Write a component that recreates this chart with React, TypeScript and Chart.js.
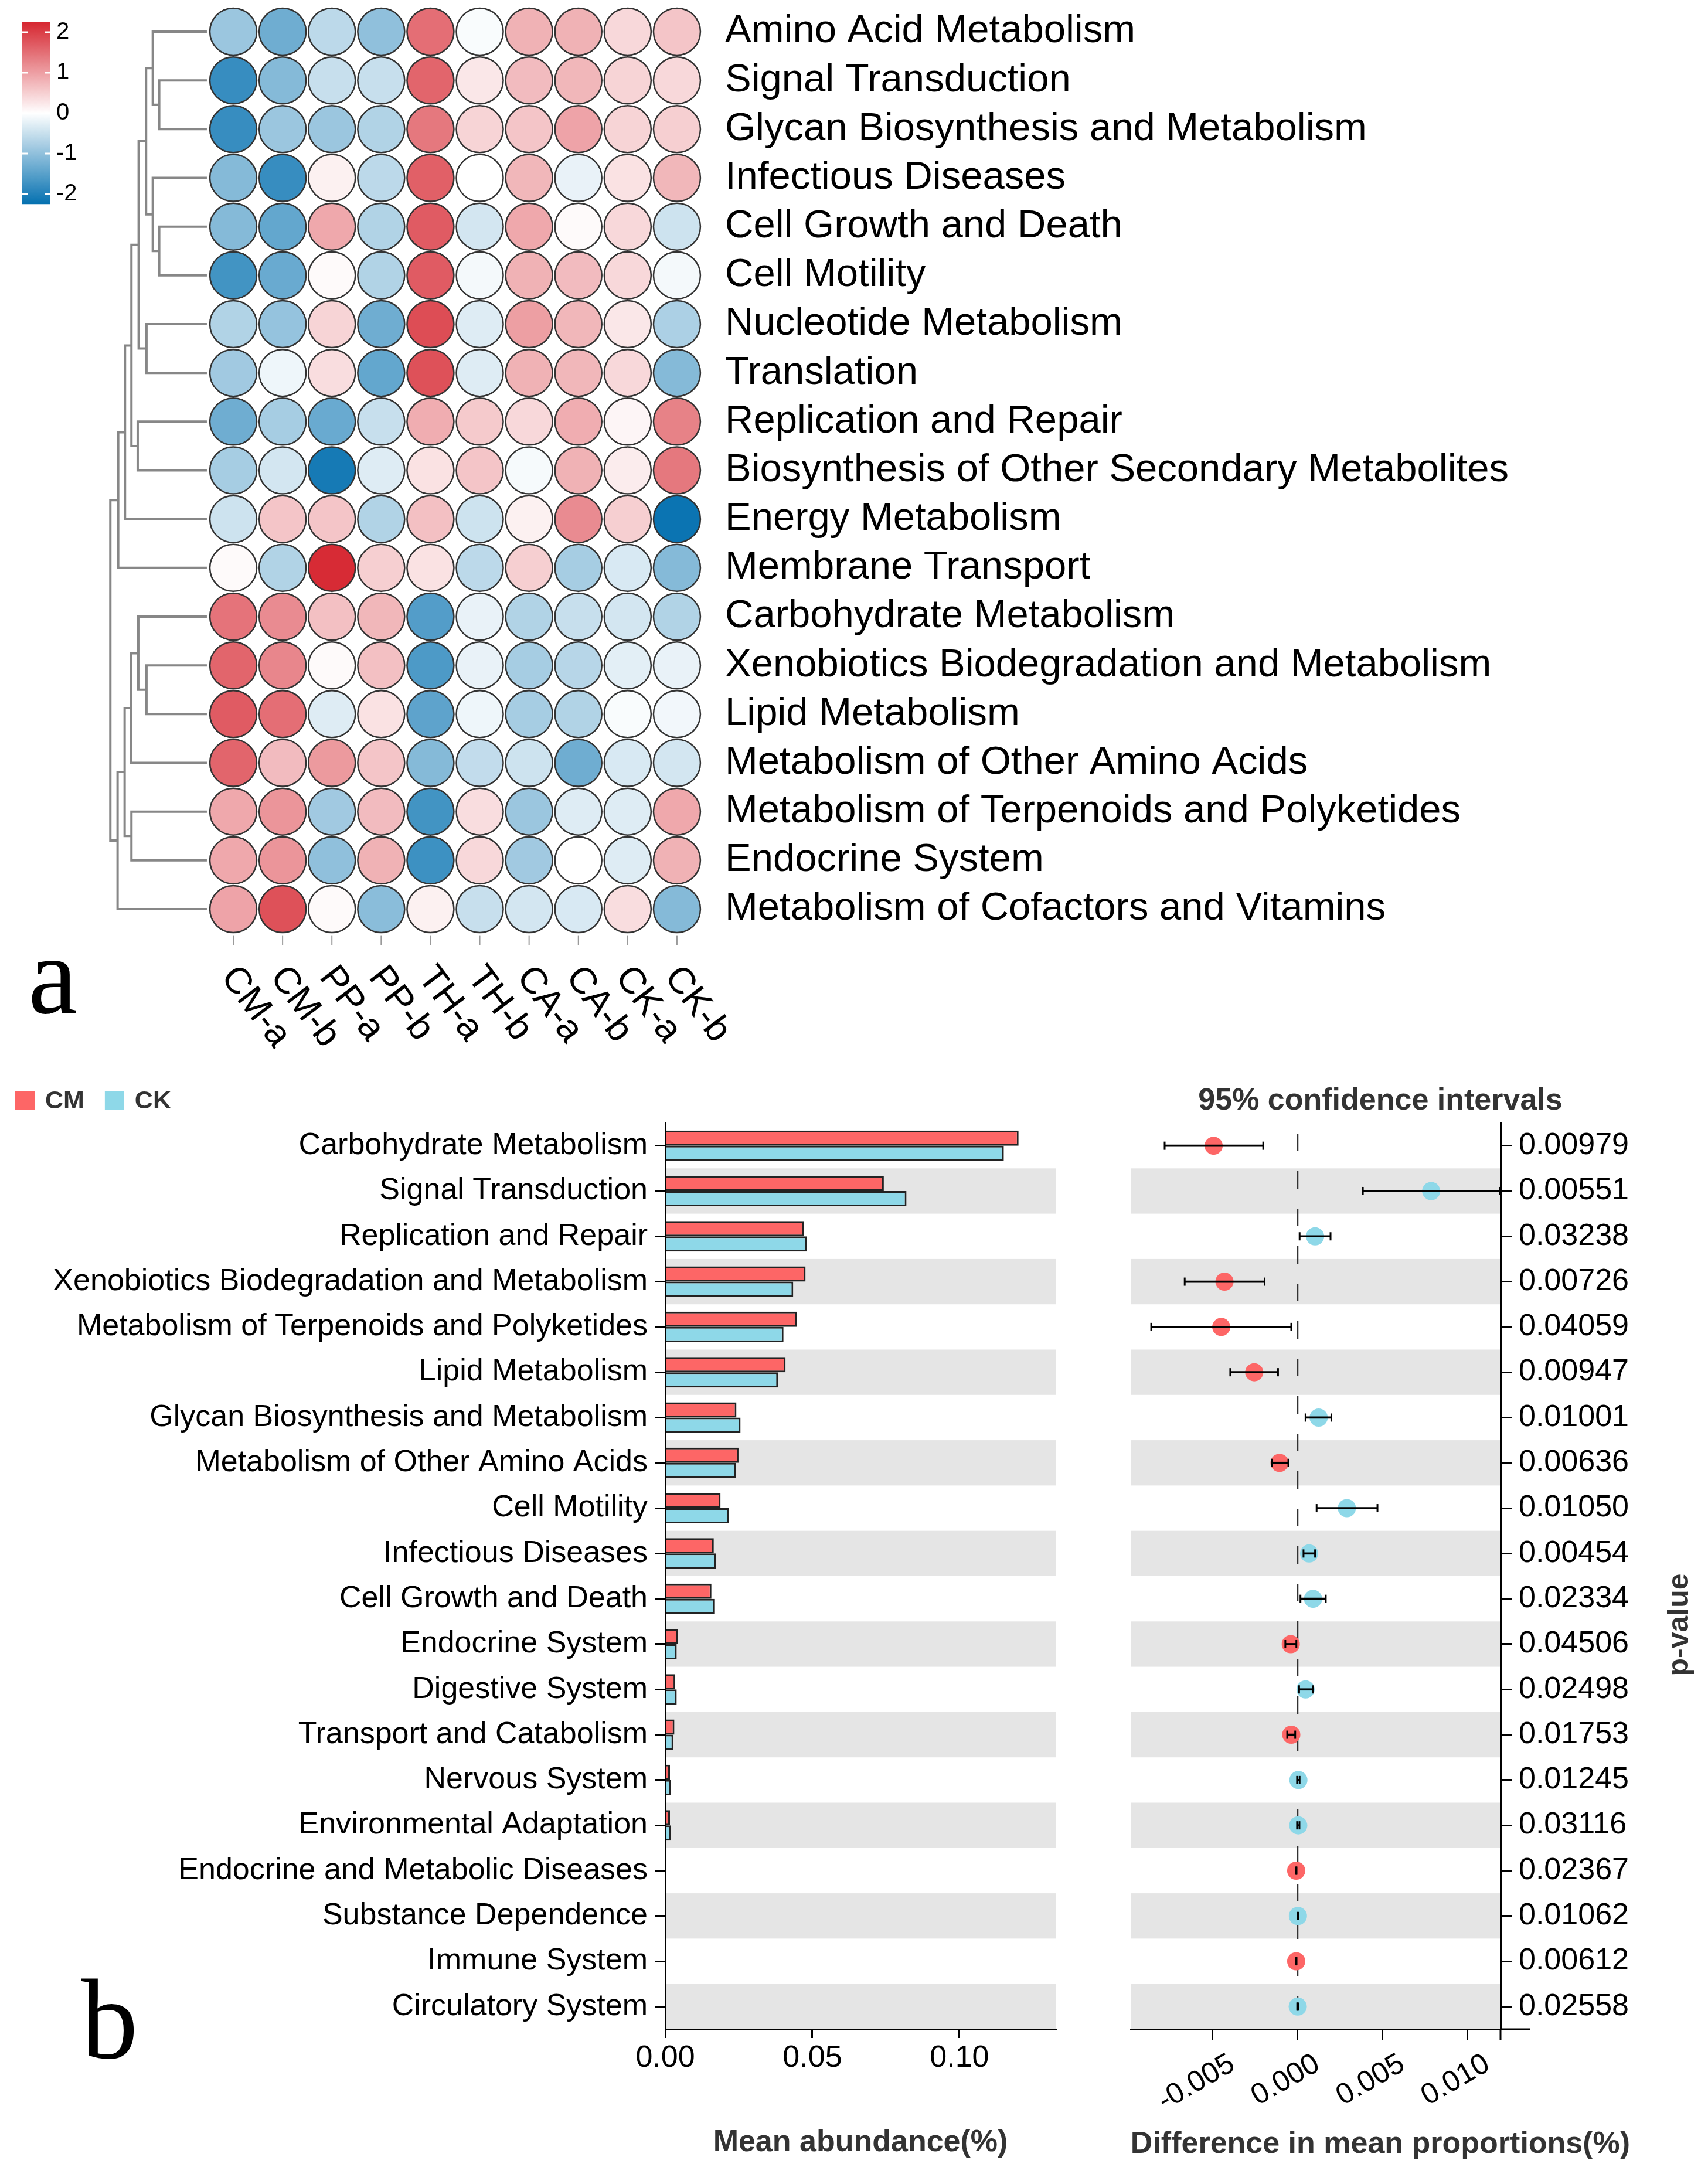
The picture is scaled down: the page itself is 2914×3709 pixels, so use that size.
import React, { useEffect, useRef } from 'react';
import { Chart, registerables } from 'chart.js';

Chart.register(...registerables);

const SANS = '"Liberation Sans", Arial, Helvetica, sans-serif';
const SERIF = '"Liberation Serif", "Times New Roman", serif';

// ---------------- Panel a data ----------------
const heatRows: string[] = [
  'Amino Acid Metabolism',
  'Signal Transduction',
  'Glycan Biosynthesis and Metabolism',
  'Infectious Diseases',
  'Cell Growth and Death',
  'Cell Motility',
  'Nucleotide Metabolism',
  'Translation',
  'Replication and Repair',
  'Biosynthesis of Other Secondary Metabolites',
  'Energy Metabolism',
  'Membrane Transport',
  'Carbohydrate Metabolism',
  'Xenobiotics Biodegradation and Metabolism',
  'Lipid Metabolism',
  'Metabolism of Other Amino Acids',
  'Metabolism of Terpenoids and Polyketides',
  'Endocrine System',
  'Metabolism of Cofactors and Vitamins',
];

const heatCols: string[] = ['CM-a', 'CM-b', 'PP-a', 'PP-b', 'TH-a', 'TH-b', 'CA-a', 'CA-b', 'CK-a', 'CK-b'];

// z-scores, one row per pathway, columns in heatCols order
const heatValues: number[][] = [
  [-0.9, -1.3, -0.6, -1.0, 1.5, -0.05, 0.8, 0.8, 0.4, 0.6],
  [-1.8, -1.1, -0.5, -0.5, 1.6, 0.25, 0.7, 0.75, 0.45, 0.4],
  [-1.8, -0.9, -0.9, -0.7, 1.4, 0.45, 0.6, 0.95, 0.45, 0.5],
  [-1.1, -1.8, 0.15, -0.6, 1.65, 0.0, 0.75, -0.2, 0.3, 0.75],
  [-1.1, -1.4, 0.9, -0.7, 1.7, -0.4, 0.9, 0.05, 0.4, -0.45],
  [-1.7, -1.35, 0.05, -0.7, 1.7, -0.1, 0.8, 0.7, 0.4, -0.1],
  [-0.7, -0.95, 0.45, -1.3, 1.85, -0.3, 1.0, 0.75, 0.25, -0.75],
  [-0.85, -0.15, 0.35, -1.4, 1.8, -0.3, 0.8, 0.75, 0.4, -1.1],
  [-1.3, -0.8, -1.35, -0.5, 0.85, 0.55, 0.4, 0.85, 0.1, 1.3],
  [-0.8, -0.4, -2.1, -0.3, 0.3, 0.6, -0.08, 0.8, 0.2, 1.4],
  [-0.45, 0.6, 0.6, -0.7, 0.65, -0.45, 0.15, 1.2, 0.5, -2.2],
  [0.05, -0.7, 2.2, 0.5, 0.3, -0.6, 0.5, -0.8, -0.35, -1.1],
  [1.45, 1.2, 0.65, 0.75, -1.55, -0.2, -0.7, -0.5, -0.4, -0.7],
  [1.6, 1.25, 0.05, 0.65, -1.6, -0.2, -0.8, -0.65, -0.25, -0.2],
  [1.7, 1.5, -0.3, 0.3, -1.45, -0.15, -0.8, -0.7, -0.05, -0.12],
  [1.6, 0.7, 1.05, 0.6, -1.1, -0.55, -0.45, -1.3, -0.35, -0.4],
  [0.9, 1.1, -0.85, 0.7, -1.7, 0.35, -0.9, -0.3, -0.3, 0.9],
  [0.9, 1.1, -1.0, 0.8, -1.75, 0.4, -0.85, 0.0, -0.3, 0.8],
  [0.95, 1.8, 0.05, -1.05, 0.15, -0.5, -0.4, -0.35, 0.35, -1.1],
];

// hclust-style merges: negative = leaf (row number), positive = earlier merge; third = height
const dendroMerges: [number, number, number][] = [
  [-2, -3, 0.967],
  [-1, 1, 1.097],
  [-5, -6, 0.967],
  [-4, 3, 1.097],
  [2, 4, 1.233],
  [-7, -8, 1.225],
  [5, 6, 1.383],
  [-9, -10, 1.403],
  [7, 8, 1.53],
  [9, -11, 1.661],
  [10, -12, 1.799],
  [-14, -15, 1.225],
  [-13, 12, 1.391],
  [13, -16, 1.534],
  [-17, -18, 1.53],
  [14, 15, 1.668],
  [16, -19, 1.811],
  [11, 17, 1.958],
];

const colorbarTicks: number[] = [2, 1, 0, -1, -2];
const colorLimit = 2.25;

// ---------------- Panel b data ----------------
const pathwaysB: string[] = [
  'Carbohydrate Metabolism',
  'Signal Transduction',
  'Replication and Repair',
  'Xenobiotics Biodegradation and Metabolism',
  'Metabolism of Terpenoids and Polyketides',
  'Lipid Metabolism',
  'Glycan Biosynthesis and Metabolism',
  'Metabolism of Other Amino Acids',
  'Cell Motility',
  'Infectious Diseases',
  'Cell Growth and Death',
  'Endocrine System',
  'Digestive System',
  'Transport and Catabolism',
  'Nervous System',
  'Environmental Adaptation',
  'Endocrine and Metabolic Diseases',
  'Substance Dependence',
  'Immune System',
  'Circulatory System',
];

const meanCM: number[] = [0.1201, 0.0743, 0.0472, 0.0477, 0.0447, 0.0409, 0.0242, 0.0249, 0.0188, 0.0165, 0.0157, 0.0043, 0.0034, 0.0031, 0.0016, 0.0016, 0.0004, 0.0003, 0.0003, 0.0002];
const meanCK: number[] = [0.1151, 0.082, 0.0482, 0.0435, 0.0402, 0.0383, 0.0256, 0.024, 0.0216, 0.0172, 0.0169, 0.0039, 0.0039, 0.0027, 0.0018, 0.0018, 0.0003, 0.0004, 0.0002, 0.0003];

const diffMean: number[] = [-0.00494, 0.00786, 0.00103, -0.0043, -0.00449, -0.00255, 0.00124, -0.00106, 0.0029, 0.00068, 0.00091, -0.0004, 0.00047, -0.00037, 0.00005, 0.00004, -0.00008, 0.00002, -0.00008, 0.00001];
const ciLow: number[] = [-0.00782, 0.00384, 0.00012, -0.00664, -0.00861, -0.00396, 0.00047, -0.00152, 0.00112, 0.00035, 0.00017, -0.00072, 0.00009, -0.00061, -0.00003, -0.00003, -0.0001, -0.00001, -0.0001, -0.00002];
const ciHigh: number[] = [-0.00202, 0.0119, 0.00194, -0.00194, -0.00037, -0.00115, 0.00199, -0.00054, 0.0047, 0.00103, 0.00166, -0.00007, 0.00091, -0.00014, 0.00012, 0.00011, -0.00006, 0.00005, -0.00006, 0.00003];
const pValues: string[] = ['0.00979', '0.00551', '0.03238', '0.00726', '0.04059', '0.00947', '0.01001', '0.00636', '0.01050', '0.00454', '0.02334', '0.04506', '0.02498', '0.01753', '0.01245', '0.03116', '0.02367', '0.01062', '0.00612', '0.02558'];

// ---------------- styling ----------------
const HEAT_RED = [214, 38, 48];
const HEAT_BLUE = [5, 113, 176];
const CM_COLOR = '#FD6666';
const CK_COLOR = '#8ED8E8';
const BAND = '#E5E5E5';

function heatColor(v: number): string {
  const t = Math.max(-1, Math.min(1, v / colorLimit));
  const end = t >= 0 ? HEAT_RED : HEAT_BLUE;
  const a = Math.abs(t);
  const c = end.map((e) => Math.round(255 + (e - 255) * a));
  return `rgb(${c[0]},${c[1]},${c[2]})`;
}

// layout constants
const HEAT_W = 2914;
const HEAT_H = 1810;
const LEAF_X = 0.464;

function dendroDatasets() {
  const nodes: { y: number; h: number }[] = [];
  const get = (id: number) => (id < 0 ? { y: -id, h: 0 } : nodes[id - 1]);
  const out: any[] = [];
  dendroMerges.forEach(([a, b, h]) => {
    const A = get(a);
    const B = get(b);
    nodes.push({ y: (A.y + B.y) / 2, h });
    out.push({
      type: 'scatter',
      showLine: true,
      data: [
        { x: LEAF_X - A.h, y: A.y },
        { x: LEAF_X - h, y: A.y },
        { x: LEAF_X - h, y: B.y },
        { x: LEAF_X - B.h, y: B.y },
      ],
      borderColor: '#878787',
      borderWidth: 4,
      pointRadius: 0,
      tension: 0,
      clip: false,
      order: 5,
    });
  });
  return out;
}

const heatPlugin = {
  id: 'heatExtras',
  afterDraw(chart: any) {
    const ctx = chart.ctx;
    const xs = chart.scales.x;
    const area = chart.chartArea;
    ctx.save();
    // colour bar
    const CB_X = 38;
    const CB_W = 48;
    const yOf = (v: number) => 193 - v * 69;
    const g = ctx.createLinearGradient(0, yOf(colorLimit), 0, yOf(-colorLimit));
    for (let i = 0; i <= 40; i++) {
      const v = colorLimit - (i * 2 * colorLimit) / 40;
      g.addColorStop(i / 40, heatColor(v));
    }
    ctx.fillStyle = g;
    ctx.fillRect(CB_X, yOf(colorLimit), CB_W, yOf(-colorLimit) - yOf(colorLimit));
    ctx.fillStyle = '#fff';
    colorbarTicks.forEach((v) => {
      const y = yOf(v);
      ctx.fillRect(CB_X, y - 1.5, 10, 3);
      ctx.fillRect(CB_X + CB_W - 10, y - 1.5, 10, 3);
    });
    ctx.fillStyle = '#000';
    ctx.font = `40px ${SANS}`;
    ctx.textBaseline = 'middle';
    ctx.textAlign = 'left';
    colorbarTicks.forEach((v) => ctx.fillText(String(v), CB_X + CB_W + 10, yOf(v)));

    // column ticks and labels
    ctx.strokeStyle = '#9a9a9a';
    ctx.lineWidth = 2;
    heatCols.forEach((_lab, c) => {
      const x = xs.getPixelForValue(c + 1);
      ctx.beginPath();
      ctx.moveTo(x, area.bottom + 4);
      ctx.lineTo(x, area.bottom + 20);
      ctx.stroke();
    });
    ctx.font = `63px ${SANS}`;
    ctx.fillStyle = '#000';
    heatCols.forEach((lab, c) => {
      const x = xs.getPixelForValue(c + 1);
      ctx.save();
      ctx.translate(x - 9, area.bottom + 64);
      ctx.rotate((53 * Math.PI) / 180);
      ctx.textAlign = 'left';
      ctx.textBaseline = 'middle';
      ctx.fillText(lab, 0, 0);
      ctx.restore();
    });
    ctx.font = `190px ${SERIF}`;
    ctx.textBaseline = 'alphabetic';
    ctx.textAlign = 'left';
    ctx.fillText('a', 48, 1728);
    ctx.restore();
  },
};

function heatConfig(): any {
  const pts: any[] = [];
  const cols: string[] = [];
  heatValues.forEach((row, r) =>
    row.forEach((v, c) => {
      pts.push({ x: c + 1, y: r + 1 });
      cols.push(heatColor(v));
    })
  );
  return {
    type: 'scatter',
    data: {
      datasets: [
        {
          data: pts,
          backgroundColor: cols,
          borderColor: '#333',
          borderWidth: 2.5,
          pointRadius: 40,
          pointHoverRadius: 40,
          clip: false,
          order: 0,
        },
        ...dendroDatasets(),
      ],
    },
    options: {
      animation: false,
      responsive: false,
      devicePixelRatio: 1,
      events: [],
      layout: { autoPadding: false, padding: { left: 145.7, top: 12.4, right: 0, bottom: HEAT_H - 1592.6 } },
      plugins: { legend: { display: false }, tooltip: { enabled: false } },
      scales: {
        x: { type: 'linear', min: -2, max: 10.5, display: false },
        y: {
          type: 'linear',
          position: 'right',
          reverse: true,
          min: 0.5,
          max: 19.5,
          afterBuildTicks: (s: any) => {
            s.ticks = heatRows.map((_r, i) => ({ value: i + 1 }));
          },
          afterFit: (s: any) => {
            s.width = HEAT_W - 1197;
            s.paddingTop = 0;
            s.paddingBottom = 0;
          },
          grid: { display: false, drawTicks: false },
          border: { display: false },
          ticks: {
            autoSkip: false,
            padding: 40,
            color: '#000',
            font: { size: 67, family: SANS, lineHeight: 0.3 },
            callback: (v: any) => heatRows[Math.round(Number(v)) - 1],
          },
        },
      },
    },
    plugins: [heatPlugin],
  };
}

// ---------- panel b ----------
const bandPlugin = {
  id: 'bands',
  beforeDraw(chart: any) {
    const { ctx, chartArea: a } = chart;
    const ys = chart.scales.y;
    const n = ys.getLabels().length;
    const step = (a.bottom - a.top) / n;
    ctx.save();
    ctx.fillStyle = BAND;
    for (let i = 1; i < n; i += 2) {
      const y = ys.getPixelForValue(i);
      ctx.fillRect(a.left, y - step / 2, a.right - a.left, step);
    }
    ctx.restore();
  },
};

const barExtras = {
  id: 'barExtras',
  afterDraw(chart: any) {
    const ctx = chart.ctx;
    ctx.save();
    ctx.font = `bold 43px ${SANS}`;
    ctx.textBaseline = 'middle';
    ctx.textAlign = 'left';
    let x = 26;
    chart.data.datasets.forEach((ds: any) => {
      ctx.fillStyle = ds.backgroundColor;
      ctx.fillRect(x, 42, 33, 32);
      ctx.fillStyle = '#333';
      ctx.fillText(ds.label, x + 51, 59);
      x += 51 + ctx.measureText(ds.label).width + 35;
    });
    ctx.fillStyle = '#000';
    ctx.font = `195px ${SERIF}`;
    ctx.textBaseline = 'alphabetic';
    ctx.fillText('b', 138, 1691);
    ctx.restore();
  },
};

function barConfig(): any {
  return {
    type: 'bar',
    data: {
      labels: pathwaysB,
      datasets: [
        { label: 'CM', data: meanCM, backgroundColor: CM_COLOR, borderColor: '#222', borderWidth: 3, categoryPercentage: 0.673, barPercentage: 1 },
        { label: 'CK', data: meanCK, backgroundColor: CK_COLOR, borderColor: '#222', borderWidth: 3, categoryPercentage: 0.673, barPercentage: 1 },
      ],
    },
    options: {
      indexAxis: 'y',
      animation: false,
      responsive: false,
      devicePixelRatio: 1,
      events: [],
      layout: { autoPadding: false, padding: { top: 96, right: 29, left: 0, bottom: 0 } },
      plugins: { legend: { display: false }, tooltip: { enabled: false } },
      scales: {
        x: {
          type: 'linear',
          min: 0,
          max: 0.1327,
          afterFit: (s: any) => {
            s.height = 247;
          },
          ticks: {
            stepSize: 0.05,
            includeBounds: false,
            autoSkip: false,
            maxRotation: 0,
            minRotation: 0,
            padding: 3,
            color: '#000',
            font: { size: 52, family: SANS },
            callback: (v: any) => Number(v).toFixed(2),
          },
          grid: { drawOnChartArea: false, drawTicks: true, tickLength: 15, color: '#000', lineWidth: 3 },
          border: { display: true, color: '#000', width: 3 },
          title: {
            display: true,
            text: 'Mean abundance(%)',
            color: '#333',
            font: { size: 52, weight: 'bold', family: SANS },
            padding: { top: 0, bottom: 22 },
          },
        },
        y: {
          type: 'category',
          labels: pathwaysB,
          afterFit: (s: any) => {
            s.width = 1135;
          },
          ticks: { autoSkip: false, padding: 12, color: '#000', font: { size: 52, family: SANS } },
          grid: { offset: false, drawOnChartArea: false, drawTicks: true, tickLength: 18, color: '#000', lineWidth: 3 },
          border: { display: true, color: '#000', width: 3 },
        },
      },
    },
    plugins: [bandPlugin, barExtras],
  };
}

const ciExtras = {
  id: 'ciExtras',
  beforeDatasetsDraw(chart: any) {
    const { ctx, chartArea: a } = chart;
    const x0 = chart.scales.x.getPixelForValue(0);
    ctx.save();
    ctx.strokeStyle = '#333';
    ctx.lineWidth = 3;
    ctx.setLineDash([30, 34]);
    ctx.beginPath();
    ctx.moveTo(x0, a.top + 18);
    ctx.lineTo(x0, a.bottom);
    ctx.stroke();
    ctx.restore();
  },
  afterDraw(chart: any) {
    const { ctx, chartArea: a } = chart;
    const xs = chart.scales.x;
    ctx.save();
    ctx.strokeStyle = '#000';
    ctx.lineWidth = 3;
    ctx.beginPath();
    ctx.moveTo(a.right, a.bottom);
    ctx.lineTo(a.right + 51, a.bottom);
    ctx.moveTo(a.right, a.bottom);
    ctx.lineTo(a.right, a.bottom + 18);
    ctx.stroke();
    // rotated x tick labels (library ticks, drawn with ggplot-like anchoring)
    ctx.fillStyle = '#000';
    ctx.font = `50px ${SANS}`;
    xs.ticks.forEach((t: any) => {
      const x = xs.getPixelForValue(t.value);
      ctx.save();
      ctx.translate(x + 34, a.bottom + 56);
      ctx.rotate((-30 * Math.PI) / 180);
      ctx.textAlign = 'right';
      ctx.textBaseline = 'middle';
      ctx.fillText(String(t.label), 0, 0);
      ctx.restore();
    });
    ctx.fillStyle = '#333';
    ctx.font = `bold 52px ${SANS}`;
    ctx.textAlign = 'center';
    ctx.textBaseline = 'middle';
    ctx.fillText('95% confidence intervals', 525, 59);
    ctx.fillText('Difference in mean proportions(%)', 525, 1839);
    ctx.translate(1036, 952);
    ctx.rotate(-Math.PI / 2);
    ctx.font = `bold 50px ${SANS}`;
    ctx.fillText('p-value', 0, 0);
    ctx.restore();
  },
};

function ciConfig(): any {
  const caps = [
    ...ciLow.map((v, i) => ({ x: v, y: pValues[i] })),
    ...ciHigh.map((v, i) => ({ x: v, y: pValues[i] })),
  ];
  return {
    type: 'bar',
    data: {
      labels: pValues,
      datasets: [
        {
          type: 'scatter',
          label: 'difference',
          data: diffMean.map((d, i) => ({ x: d, y: pValues[i] })),
          backgroundColor: diffMean.map((d) => (d < 0 ? CM_COLOR : CK_COLOR)),
          borderWidth: 0,
          pointRadius: 15.5,
          clip: false,
          order: 3,
        },
        {
          type: 'bar',
          label: 'ci',
          data: ciLow.map((l, i) => [l, ciHigh[i]]),
          backgroundColor: '#000',
          borderWidth: 0,
          barThickness: 3,
          order: 2,
        },
        {
          type: 'scatter',
          label: 'caps',
          data: caps,
          pointStyle: 'line',
          rotation: 90,
          pointRadius: 7,
          borderColor: '#000',
          borderWidth: 3,
          clip: false,
          order: 1,
        },
      ],
    },
    options: {
      indexAxis: 'y',
      animation: false,
      responsive: false,
      devicePixelRatio: 1,
      events: [],
      layout: { autoPadding: false, padding: { top: 96, left: 99, right: 0, bottom: 0 } },
      plugins: { legend: { display: false }, tooltip: { enabled: false } },
      scales: {
        x: {
          type: 'linear',
          min: -0.00982,
          max: 0.01194,
          afterFit: (s: any) => {
            s.height = 247;
          },
          ticks: {
            display: false,
            stepSize: 0.005,
            includeBounds: false,
            autoSkip: false,
            callback: (v: any) => {
              const n = Math.abs(Number(v)) < 1e-9 ? 0 : Number(v);
              return n.toFixed(3);
            },
          },
          grid: { drawOnChartArea: false, drawTicks: true, tickLength: 18, color: '#000', lineWidth: 3 },
          border: { display: true, color: '#000', width: 3 },
        },
        y: {
          type: 'category',
          labels: pValues,
          position: 'right',
          afterFit: (s: any) => {
            s.width = 354;
          },
          ticks: { autoSkip: false, padding: 12, color: '#000', font: { size: 52, family: SANS } },
          grid: { offset: false, drawOnChartArea: false, drawTicks: true, tickLength: 19, color: '#000', lineWidth: 3 },
          border: { display: true, color: '#000', width: 3 },
        },
      },
    },
    plugins: [bandPlugin, ciExtras],
  };
}

export default function App() {
  const heatRef = useRef<HTMLCanvasElement>(null);
  const barRef = useRef<HTMLCanvasElement>(null);
  const ciRef = useRef<HTMLCanvasElement>(null);

  useEffect(() => {
    Chart.defaults.font.family = SANS;
    Chart.defaults.color = '#000';
    const charts: Chart[] = [];
    if (heatRef.current) charts.push(new Chart(heatRef.current, heatConfig()));
    if (barRef.current) charts.push(new Chart(barRef.current, barConfig()));
    if (ciRef.current) charts.push(new Chart(ciRef.current, ciConfig()));
    return () => charts.forEach((c) => c.destroy());
  }, []);

  return (
    <div style={{ position: 'absolute', left: 0, top: 0, width: 2914, height: 3709, background: '#fff', overflow: 'hidden' }}>
      <canvas ref={heatRef} width={HEAT_W} height={HEAT_H} style={{ position: 'absolute', left: 0, top: 0, width: HEAT_W, height: HEAT_H }} />
      <canvas ref={barRef} width={1830} height={1889} style={{ position: 'absolute', left: 0, top: 1820, width: 1830, height: 1889 }} />
      <canvas ref={ciRef} width={1084} height={1889} style={{ position: 'absolute', left: 1830, top: 1820, width: 1084, height: 1889 }} />
    </div>
  );
}
